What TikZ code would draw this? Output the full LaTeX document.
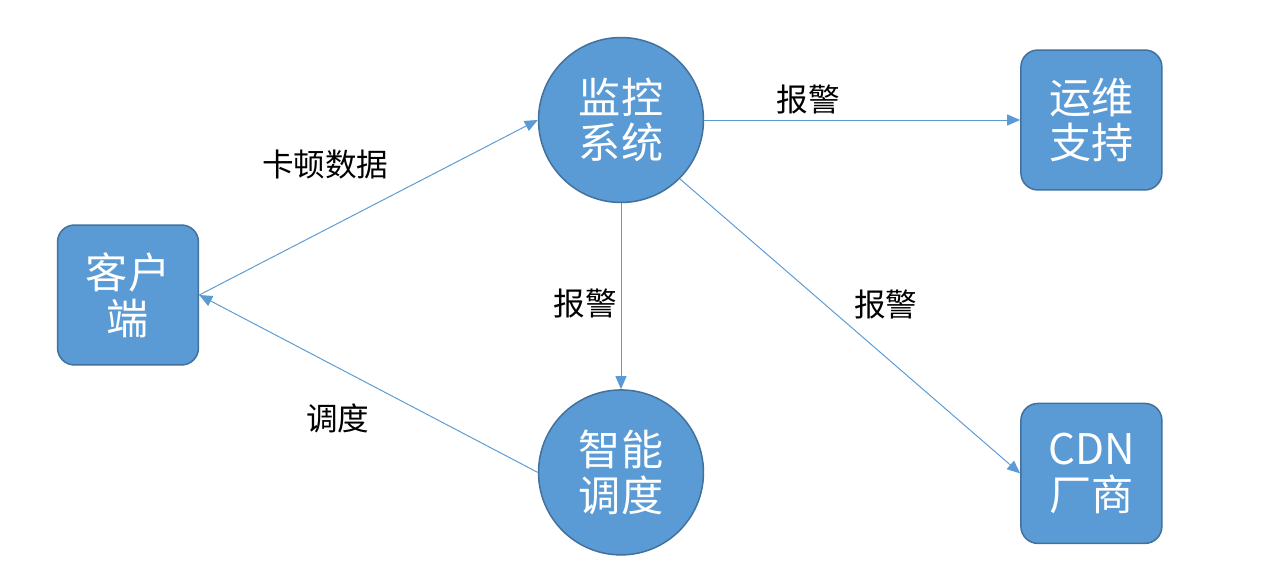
\documentclass[tikz,border=0pt]{standalone}
\usepackage{fontspec}
\usetikzlibrary{positioning, arrows.meta}
\newfontfamily\cjk{Noto Sans CJK SC}
\definecolor{nodefill}{HTML}{5B9BD5}
\definecolor{nodeframe}{HTML}{41719C}
\definecolor{linkcol}{HTML}{5B9BD5}
\tikzset{
  basebox/.style={
    draw=nodeframe,
    fill=nodefill,
    line width=0.85pt,
    align=center,
    text=white,
    inner sep=0pt,
    font=\fontsize{24}{26}\selectfont\cjk
  },
  sysbox/.style={basebox, rounded corners=0.34cm, minimum width=2.82cm, minimum height=2.8cm},
  syscirc/.style={basebox, circle, minimum size=3.3cm},
  arr/.style={-{Triangle[length=0.26cm, width=0.22cm]}, draw=linkcol, line width=0.55pt},
  lbl/.style={font=\fontsize{18}{20}\selectfont\cjk, text=black, inner sep=2pt}
}

\begin{document}
\begin{tikzpicture}[x=0.02cm, y=-0.02cm]

  \fill[white] (0,0) rectangle (1286,580);
  \useasboundingbox (0,0) rectangle (1286,580);

  \node[sysbox] (client) at (128,295) {客户\\端};
  \node[syscirc] (monitor) at (621,120) {监控\\系统};
  \node[syscirc, below=3.72cm of monitor] (sched) {智能\\调度};
  \node[sysbox, right=6.32cm of monitor] (ops) {运维\\支持};
  \node[sysbox, below=4.24cm of ops] (cdn) {CDN\\厂商};

  \draw[arr] (client.east) -- node[lbl, above left, pos=0.5, xshift=0.48cm, yshift=0.48cm] {卡顿数据} (monitor.west);
  \draw[arr] (monitor.east) -- node[lbl, pos=0.33, yshift=0.42cm] {报警} (ops.west);
  \draw[arr] (monitor.south) -- node[lbl, left, pos=0.54] {报警} (sched.north);
  \draw[arr] (monitor.-45) -- node[lbl, above right, pos=0.5, yshift=0.06cm] {报警} (cdn.west);
  \draw[arr] (sched.west) -- node[lbl, below left, pos=0.5, xshift=0.1cm, yshift=-0.32cm] {调度} (client.east);

\end{tikzpicture}
\end{document}
